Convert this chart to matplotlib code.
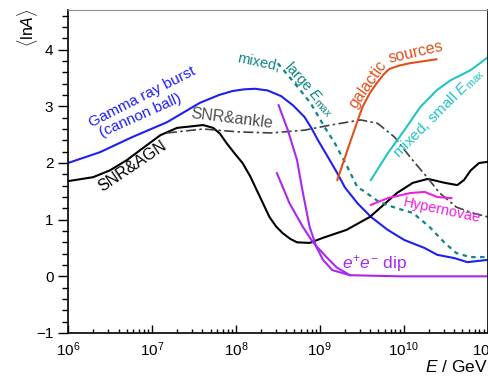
import numpy as np
import matplotlib
matplotlib.use("Agg")
import matplotlib.pyplot as plt
from matplotlib.ticker import MultipleLocator, LogLocator, NullFormatter

plt.rcParams['font.family'] = ['Liberation Sans', 'DejaVu Sans']
plt.rcParams['mathtext.fontset'] = 'custom'
plt.rcParams['mathtext.rm'] = 'Liberation Sans'
plt.rcParams['mathtext.it'] = 'Liberation Sans:italic'

# log10(E/GeV) and <lnA>
grb_lgE = [6.0, 6.38, 6.77, 7.18, 7.57, 7.80, 7.96, 8.10, 8.23, 8.38, 8.54, 8.68, 8.82,
           8.90, 8.98, 9.04, 9.10, 9.21, 9.30, 9.45, 9.61, 9.81, 10.01, 10.25, 10.40,
           10.61, 10.76, 10.88, 11.0]
grb_lnA = [2.0, 2.19, 2.46, 2.72, 3.06, 3.20, 3.27, 3.30, 3.31, 3.28, 3.18, 3.02, 2.81,
           2.62, 2.40, 2.25, 2.10, 1.82, 1.57, 1.29, 1.05, 0.82, 0.64, 0.50, 0.38,
           0.32, 0.25, 0.27, 0.29]

agn_lgE = [6.0, 6.30, 6.5, 6.70, 6.89, 7.10, 7.30, 7.49, 7.61, 7.73, 7.81, 7.89, 7.98,
           8.08, 8.17, 8.25, 8.33, 8.40, 8.48, 8.56, 8.65, 8.73, 8.88, 9.04, 9.32, 9.60,
           9.92, 10.11, 10.29, 10.49, 10.64, 10.72, 10.80, 10.90, 11.0]
agn_lnA = [1.68, 1.75, 1.87, 2.05, 2.26, 2.49, 2.62, 2.65, 2.67, 2.62, 2.52, 2.35, 2.18,
           2.0, 1.77, 1.52, 1.27, 1.05, 0.88, 0.76, 0.66, 0.60, 0.59, 0.68, 0.82, 1.05,
           1.47, 1.65, 1.72, 1.65, 1.61, 1.70, 1.87, 2.00, 2.02]

ankle_lgE = [7.18, 7.61, 8.02, 8.42, 8.82, 9.13, 9.49, 9.69, 9.89, 10.08, 10.29, 10.43,
             10.63, 10.82, 11.0]
ankle_lnA = [2.53, 2.60, 2.55, 2.53, 2.58, 2.67, 2.76, 2.70, 2.46, 2.10, 1.73, 1.47,
             1.22, 1.12, 1.05]

large_lgE = [8.5, 8.70, 8.89, 9.06, 9.18, 9.33, 9.45, 9.51, 9.71, 9.92, 10.11, 10.31,
             10.49, 10.63, 10.79, 11.0]
large_lnA = [3.76, 3.41, 3.06, 2.63, 2.35, 1.93, 1.57, 1.52, 1.31, 1.20, 1.12, 0.87,
             0.59, 0.41, 0.34, 0.34]

gal_lgE = [9.21, 9.37, 9.51, 9.60, 9.68, 9.76, 9.83, 9.95, 10.07, 10.39]
gal_lnA = [1.70, 2.40, 2.99, 3.24, 3.41, 3.56, 3.66, 3.72, 3.76, 3.83]

small_lgE = [9.61, 9.81, 10.01, 10.20, 10.40, 10.56, 10.80, 11.0]
small_lnA = [1.70, 2.17, 2.58, 2.99, 3.29, 3.46, 3.64, 3.86]

hyp_lgE = [9.61, 9.81, 10.08, 10.25, 10.40, 10.57]
hyp_lnA = [1.26, 1.38, 1.47, 1.49, 1.40, 1.38]

dip1_lgE = [8.51, 8.62, 8.73, 8.80, 8.88, 8.96, 9.04, 9.15, 9.36, 9.95, 11.0]
dip1_lnA = [3.02, 2.58, 2.05, 1.47, 0.87, 0.52, 0.29, 0.11, 0.02, 0.0, 0.0]

dip2_lgE = [8.49, 8.64, 8.80, 8.92, 9.08, 9.20, 9.36]
dip2_lnA = [1.82, 1.29, 0.87, 0.60, 0.34, 0.16, 0.02]


def E(lg):
    return 10.0 ** np.array(lg)


fig = plt.figure(figsize=(4.88, 3.76), dpi=100)
ax = fig.add_axes([68 / 488, 1 - 333 / 376, 1 - 68 / 488 - 0.001, (333 - 10) / 376])

lw = 1.5
ax.plot(E(grb_lgE), grb_lnA, color='#1f1ff5', lw=lw)
ax.plot(E(agn_lgE), agn_lnA, color='black', lw=lw)
ax.plot(E(ankle_lgE), ankle_lnA, color='#404040', lw=1.2, ls=(0, (6, 2, 1.5, 2)))
ax.plot(E(large_lgE), large_lnA, color='#0f8585', lw=1.6, ls=(0, (2, 2)))
ax.plot(E(gal_lgE), gal_lnA, color='#e0501a', lw=lw)
ax.plot(E(small_lgE), small_lnA, color='#22c4c4', lw=lw)
ax.plot(E(hyp_lgE), hyp_lnA, color='#f020e0', lw=lw)
ax.plot(E(dip1_lgE), dip1_lnA, color='#a828f0', lw=lw)
ax.plot(E(dip2_lgE), dip2_lnA, color='#a828f0', lw=lw)

ax.set_xscale('log')
ax.set_xlim(1e6, 1e11)
ax.set_ylim(-1, 4.7)
ax.yaxis.set_major_locator(MultipleLocator(1))
ax.yaxis.set_minor_locator(MultipleLocator(0.2))
ax.xaxis.set_major_locator(LogLocator(base=10, numticks=10))
ax.xaxis.set_minor_locator(LogLocator(base=10, subs=np.arange(2, 10), numticks=20))
ax.xaxis.set_minor_formatter(NullFormatter())
ax.tick_params(axis='y', which='major', direction='out', length=7, width=1, labelsize=11)
ax.tick_params(axis='y', which='minor', direction='out', length=4, width=1)
ax.tick_params(axis='x', which='major', direction='in', length=6, width=1, labelsize=11, pad=5)
ax.tick_params(axis='x', which='minor', direction='in', length=3, width=1)
ax.spines['top'].set_color('#909090')
for s in ['left', 'bottom', 'right']:
    ax.spines[s].set_linewidth(1.2)

def lab(lg, y, txt, color, rot, fs=11):
    ax.text(10 ** lg, y, txt, color=color, rotation=rot, fontsize=fs,
            ha='center', va='center', rotation_mode='anchor')

lab(6.89, 3.16, 'Gamma ray burst', '#1f1ff5', 27)
lab(6.86, 2.83, '(cannon ball)', '#1f1ff5', 24)
lab(6.77, 1.95, 'SNR&AGN', 'black', 34, 11.5)
lab(7.95, 2.79, 'SNR&ankle', '#505050', -7, 11.5)
lab(8.27, 3.77, 'mixed,', '#0f8585', -12, 10.5)
lab(8.88, 3.30, r'large $E_{\rm max}$', '#0f8585', -48, 10.5)
lab(9.57, 3.38, 'galactic', '#e0501a', 55, 11.5)
lab(10.14, 3.95, 'sources', '#e0501a', 13, 11.5)
lab(10.42, 2.88, r'mixed, small $E_{\rm max}$', '#22c4c4', 45)
lab(10.45, 1.17, 'Hypernovae', '#f020e0', -12, 10.5)
lab(9.65, 0.23, r'$e^{+}e^{-}$ dip', '#a828f0', 0, 12.5)

fig.text(27 / 488, 1 - 28 / 376, r'$\langle\mathrm{ln}A\rangle$', rotation=90,
         ha='center', va='center', fontsize=11.5)
fig.text(425 / 488, 1 - 367 / 376, r'$E$ / GeV', ha='left', va='center', fontsize=12.5)

fig.savefig('out.png', dpi=100)
